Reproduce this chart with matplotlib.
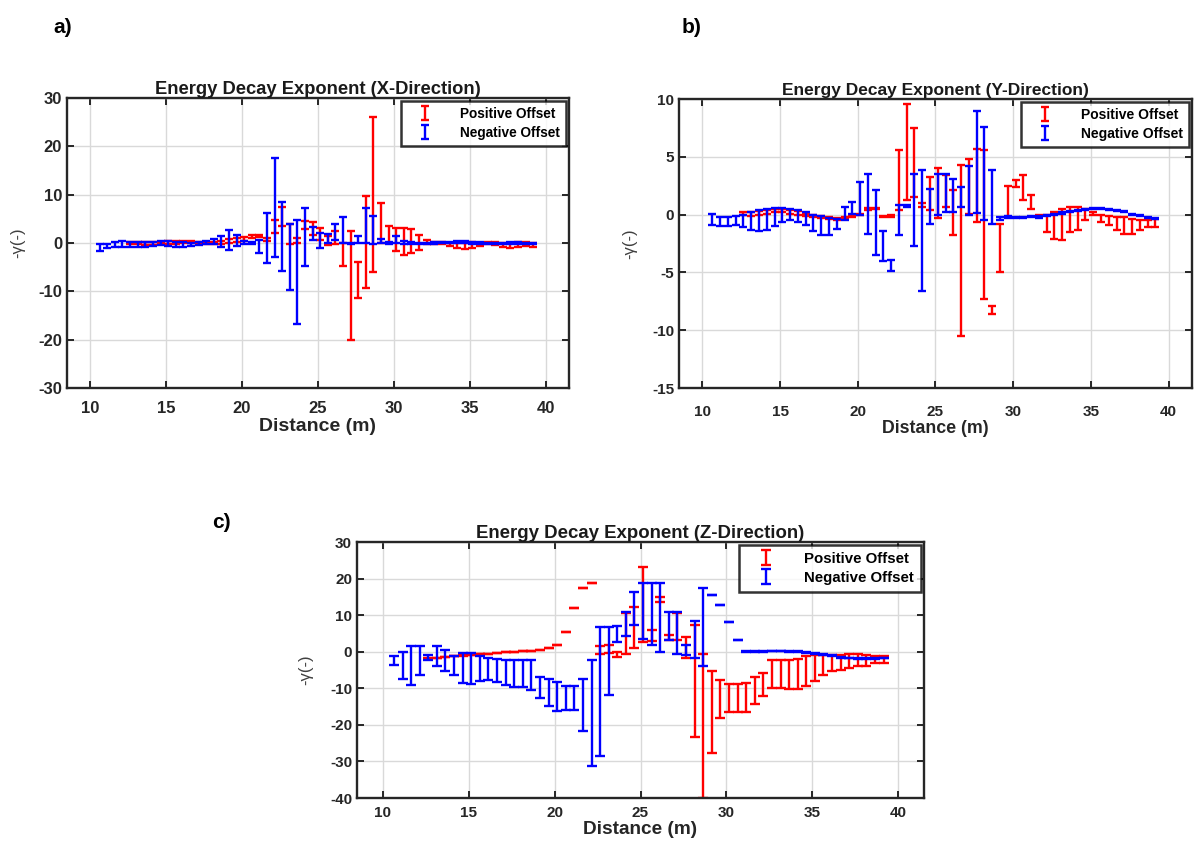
import numpy as np
import matplotlib.pyplot as plt

plt.rcParams['font.family'] = ['Liberation Sans', 'DejaVu Sans']
plt.rcParams['axes.unicode_minus'] = False

# distances (m) of the error bars
dist_neg = [10.65, 11.15, 11.65, 12.15, 12.65, 13.15, 13.65, 14.15, 14.65, 15.15,
            15.65, 16.15, 16.65, 17.15, 17.65, 18.15, 18.65, 19.15, 19.65, 20.15,
            20.65, 21.15, 21.65, 22.15, 22.65, 23.15, 23.65, 24.15, 24.65, 25.15,
            25.65, 26.15, 26.65, 27.15, 27.65, 28.15, 28.65, 29.15, 29.65, 30.15,
            30.65, 31.15, 31.65, 32.15, 32.65, 33.15, 33.65, 34.15, 34.65, 35.15,
            35.65, 36.15, 36.65, 37.15, 37.65, 38.15, 38.65, 39.15]
dist_pos = dist_neg[4:]

# X-direction: lower / upper ends of each bar
x_neg_lo = [-1.7, -1.1, -0.9, -0.8, -0.9, -0.9, -0.8, -0.6, -0.5, -0.6,
            -0.8, -0.9, -0.7, -0.4, -0.2, -0.3, -0.8, -1.5, -0.7, -0.2,
            -0.3, -2.0, -4.1, -2.8, -5.7, -9.8, -16.7, -4.7, 0.7, -1.0,
            0.0, 0.7, 0.0, -0.3, 0.0, 0.0, -0.3, 0.0, -0.2, 0.0,
            -0.1, -0.3, -0.3, -0.2, -0.1, 0.0, 0.0, 0.0, 0.0, -0.1,
            -0.2, -0.3, -0.3, -0.3, -0.2, -0.1, -0.2, -0.3]
x_neg_hi = [-0.3, -0.2, 0.2, 0.4, 0.3, 0.3, 0.2, 0.3, 0.4, 0.4,
            0.3, 0.2, 0.1, 0.2, 0.5, 0.8, 1.4, 2.6, 1.7, 0.4,
            0.3, 0.7, 6.2, 17.7, 8.4, 4.0, 4.8, 7.2, 3.4, 2.0,
            1.9, 3.9, 5.3, 0.0, 1.5, 7.2, 5.5, 0.8, 0.2, 1.4,
            0.5, 0.2, 0.1, 0.1, 0.2, 0.3, 0.3, 0.4, 0.4, 0.3,
            0.2, 0.1, 0.0, 0.1, 0.2, 0.2, 0.1, 0.0]
x_pos_lo = [-0.3, -0.3, -0.4, -0.4, -0.3, -0.2, -0.1, 0.0, 0.0, -0.1,
            -0.2, -0.2, -0.2, 0.0, 0.3, 0.5, 1.0, 1.2, 0.5, 2.0,
            3.5, -0.3, 0.0, 3.0, 1.7, 0.7, -0.5, -0.1, -4.8, -20.0,
            -11.4, -9.3, -6.0, 0.0, 0.0, -1.7, -2.4, -2.1, -1.4, -0.2,
            -0.1, -0.3, -0.7, -1.0, -1.2, -1.0, -0.6, -0.3, -0.4, -0.8,
            -1.0, -0.9, -0.6, -0.8]
x_pos_hi = [0.3, 0.3, 0.2, 0.2, 0.3, 0.4, 0.5, 0.5, 0.4, 0.3,
            0.2, 0.3, 0.5, 0.8, 1.0, 1.2, 1.7, 1.6, 1.0, 4.7,
            7.4, 4.0, 1.0, 4.5, 4.3, 3.1, 1.4, 2.4, 0.0, 2.4,
            -4.0, 9.7, 26.0, 8.3, 3.6, 3.2, 3.1, 2.9, 1.7, 0.6,
            0.3, 0.2, 0.1, 0.0, 0.1, 0.2, 0.1, 0.2, 0.2, 0.1,
            0.1, 0.3, 0.2, 0.0]

# Y-direction
y_neg_lo = [-0.9, -1.0, -1.0, -0.9, -1.1, -1.3, -1.4, -1.3, -1.0, -0.6,
            -0.5, -0.6, -0.9, -1.4, -1.8, -1.8, -1.2, -0.5, 0.1, 0.0,
            -1.7, -3.5, -4.0, -4.9, -1.8, 0.66, -2.7, -6.6, -0.8, -0.06,
            0.23, 0.23, 0.66, -0.06, 0.17, -0.5, -0.8, -0.5, -0.3, -0.3,
            -0.3, -0.2, -0.3, -0.1, 0.0, 0.1, 0.2, 0.3, 0.4, 0.45,
            0.45, 0.4, 0.3, 0.2, 0.0, -0.1, -0.3, -0.35]
y_neg_hi = [0.1, -0.2, -0.2, -0.1, 0.0, 0.2, 0.4, 0.5, 0.6, 0.6,
            0.5, 0.4, 0.2, 0.0, -0.1, -0.3, -0.4, 0.7, 1.1, 2.8,
            3.55, 2.1, -1.45, -3.9, 0.8, 0.8, 3.5, 3.85, 2.25, 3.5,
            3.5, 3.1, 2.4, 4.2, 9.0, 7.6, 3.85, -0.2, -0.1, -0.2,
            -0.2, -0.1, -0.1, 0.0, 0.1, 0.2, 0.3, 0.4, 0.5, 0.55,
            0.55, 0.5, 0.4, 0.3, 0.1, 0.0, -0.2, -0.25]
y_pos_lo = [0.0, -0.1, 0.0, 0.1, 0.2, 0.2, 0.1, 0.0, -0.1, -0.2,
            -0.3, -0.4, -0.5, -0.4, -0.2, 0.0, 0.4, 0.5, -0.2, -0.2,
            0.4, 1.25, 1.5, 0.7, 0.4, -0.3, 0.66, -1.8, -10.5, 0.1,
            -0.6, -7.3, -8.6, -5.0, -0.2, 2.4, 1.25, 0.5, -0.1, -1.5,
            -2.1, -2.2, -1.5, -1.35, -0.5, 0.0, -0.6, -0.9, -1.35, -1.65,
            -1.65, -1.35, -1.1, -1.1]
y_pos_hi = [0.2, 0.2, 0.3, 0.4, 0.5, 0.5, 0.4, 0.3, 0.1, 0.0,
            -0.1, -0.2, -0.3, -0.2, 0.0, 0.1, 0.6, 0.6, -0.1, 0.0,
            5.6, 9.6, 7.5, 1.0, 3.3, 4.0, 3.4, 2.1, 4.3, 4.85,
            5.7, 5.6, -7.9, -0.8, 2.5, 3.0, 3.4, 1.7, 0.0, -0.06,
            0.2, 0.5, 0.66, 0.66, 0.5, 0.2, 0.0, -0.1, -0.2, -0.2,
            -0.35, -0.5, -0.5, -0.35]

# Z-direction
z_neg_lo = [-3.5, -7.4, -9.0, -6.3, -2.2, -4.0, -5.4, -6.3, -8.5, -8.7,
            -8.1, -7.8, -8.4, -9.0, -9.6, -9.6, -10.4, -12.6, -14.9, -16.3,
            -15.8, -15.8, -21.7, -31.3, -28.5, -11.9, 2.7, 4.3, 7.3, 3.6,
            1.8, 0.0, 3.2, -0.5, -0.9, -1.8, -3.9, 15.5, 12.8, 8.0,
            3.1, 0.0, 0.0, 0.0, 0.1, 0.1, 0.0, -0.1, -0.3, -0.5,
            -0.8, -1.2, -1.6, -1.8, -1.9, -1.9, -1.9, -1.8]
z_neg_hi = [-1.1, -0.2, 1.6, 1.5, -0.8, 1.5, 0.5, -1.1, -0.4, -0.4,
            -1.1, -1.7, -2.0, -2.2, -2.2, -2.2, -2.2, -6.9, -7.5, -8.3,
            -9.3, -9.3, -7.4, -2.2, 6.9, 6.8, 7.0, 10.9, 16.4, 18.7,
            18.7, 18.9, 10.9, 10.9, 1.8, 8.5, 17.3, 15.5, 12.8, 8.0,
            3.1, 0.2, 0.2, 0.2, 0.3, 0.3, 0.2, 0.1, -0.1, -0.3,
            -0.6, -1.0, -1.4, -1.6, -1.7, -1.7, -1.7, -1.6]
z_pos_lo = [-2.0, -1.8, -1.5, -1.3, -1.1, -0.9, -0.7, -0.5, -0.4, -0.2,
            -0.1, 0.1, 0.2, 0.4, 0.9, 1.8, 5.5, 11.9, 17.4, 18.7,
            -0.5, -0.3, -1.4, -0.5, 0.9, 2.7, 3.0, 13.5, 3.2, 3.2,
            -1.8, -23.2, -40.0, -27.8, -18.2, -16.4, -16.4, -16.4, -14.3, -12.0,
            -9.9, -9.9, -10.2, -10.2, -9.5, -8.1, -6.3, -5.4, -4.9, -4.5,
            -4.0, -3.8, -3.1, -3.1]
z_pos_hi = [-1.8, -1.6, -1.4, -1.2, -1.0, -0.8, -0.6, -0.5, -0.3, -0.2,
            0.0, 0.1, 0.3, 0.5, 0.9, 1.8, 5.5, 11.9, 17.4, 18.7,
            1.5, 1.8, 0.0, 10.5, 12.3, 23.2, 6.0, 15.0, 4.5, 10.5,
            4.1, 7.3, -0.5, -5.2, -7.7, -8.7, -8.7, -8.5, -7.0, -5.9,
            -2.2, -2.2, -2.2, -2.0, -1.3, -0.8, -0.8, -0.8, -0.8, -0.5,
            -0.5, -0.8, -1.3, -1.3]

titles = ['Energy Decay Exponent (X-Direction)',
          'Energy Decay Exponent (Y-Direction)',
          'Energy Decay Exponent (Z-Direction)']
legend_labels = ['Positive Offset', 'Negative Offset']
dark = '#262626'


def bars(ax, x, lo, hi, color, label, cap):
    lo = np.asarray(lo, float)
    hi = np.asarray(hi, float)
    mid = (lo + hi) / 2
    err = np.abs(hi - lo) / 2
    return ax.errorbar(x, mid, yerr=err, fmt='none', ecolor=color,
                       elinewidth=1.7, capsize=cap, capthick=1.7,
                       label=label)


def panel(rect, title, data, ylim, yticks, tick_fs, title_fs, xl_fs,
          xpad, ylab_x, leg_fs, cap):
    ax = fig.add_axes(rect)
    pl, ph, nl, nh = data
    bars(ax, dist_pos, pl, ph, 'red', legend_labels[0], cap)
    bars(ax, dist_neg, nl, nh, 'blue', legend_labels[1], cap)
    ax.set_xlim(8.5, 41.5)
    ax.set_ylim(*ylim)
    ax.set_xticks([10, 15, 20, 25, 30, 35, 40])
    ax.set_yticks(yticks)
    ax.grid(True, color='#d9d9d9', lw=1.0)
    ax.set_axisbelow(True)
    for s in ax.spines.values():
        s.set_linewidth(1.7)
        s.set_color(dark)
    ax.tick_params(direction='in', top=True, right=True, length=5,
                   width=1.4, color=dark, labelcolor=dark,
                   labelsize=tick_fs)
    ax.tick_params(axis='x', pad=xpad)
    ax.tick_params(axis='y', pad=3.5)
    for t in ax.get_xticklabels() + ax.get_yticklabels():
        t.set_fontweight('bold')
    ax.set_title(title, fontsize=title_fs, fontweight='bold', pad=3,
                 color='#1a1a1a')
    ax.set_xlabel('Distance (m)', fontsize=xl_fs, fontweight='bold',
                  color=dark, labelpad=1)
    ax.set_ylabel('-\u03b3(-)', fontsize=12, color='#404040')
    ax.yaxis.set_label_coords(ylab_x, 0.5)
    leg = ax.legend(loc='upper right', frameon=True, fancybox=False,
                    edgecolor='black', borderaxespad=0.2,
                    handlelength=2.6, handletextpad=1.3, borderpad=0.45,
                    labelspacing=0.35,
                    prop={'weight': 'bold', 'size': leg_fs})
    leg.get_frame().set_linewidth(1.8)
    return ax


fig = plt.figure(figsize=(12, 8.41), dpi=100)

panel([0.0558, 0.5386, 0.4183, 0.3448], titles[0],
      (x_pos_lo, x_pos_hi, x_neg_lo, x_neg_hi),
      (-30, 30), [-30, -20, -10, 0, 10, 20, 30],
      12, 13.2, 14, 9.5, -0.084, 9.8, 3.0)
panel([0.5658, 0.5386, 0.4275, 0.3436], titles[1],
      (y_pos_lo, y_pos_hi, y_neg_lo, y_neg_hi),
      (-15, 10), [-15, -10, -5, 0, 5, 10],
      11, 12.5, 12.8, 12, -0.082, 10, 3.0)
panel([0.2975, 0.0511, 0.4725, 0.3044], titles[2],
      (z_pos_lo, z_pos_hi, z_neg_lo, z_neg_hi),
      (-40, 30), [-40, -30, -20, -10, 0, 10, 20, 30],
      11, 13.4, 13.7, 5.5, -0.078, 10.8, 3.4)

fig.text(53 / 1200, 1 - 33 / 841, 'a)', fontsize=15, fontweight='bold')
fig.text(682 / 1200, 1 - 33 / 841, 'b)', fontsize=15, fontweight='bold')
fig.text(212 / 1200, 1 - 528 / 841, 'c)', fontsize=15, fontweight='bold')

fig.savefig('out.png', dpi=100)
